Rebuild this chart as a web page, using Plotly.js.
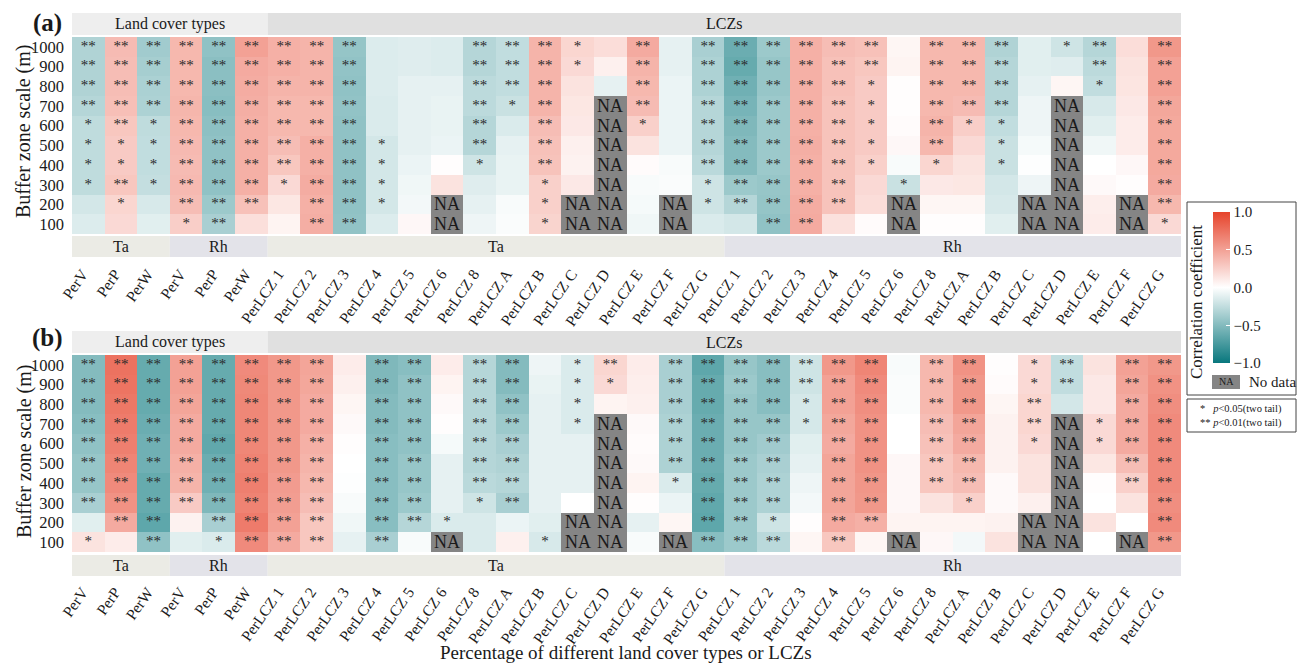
<!DOCTYPE html>
<html><head><meta charset="utf-8">
<script src="https://cdn.plot.ly/plotly-3.0.1.min.js"></script>
<style>html,body{margin:0;padding:0;background:#fff}</style>
</head><body><div id="chart" style="width:1298px;height:663px"></div>
<script>
// ---------- categories ----------
const xLabels = ['PerV','PerP','PerW','PerV','PerP','PerW',
  'PerLCZ 1','PerLCZ 2','PerLCZ 3','PerLCZ 4','PerLCZ 5','PerLCZ 6','PerLCZ 8','PerLCZ A','PerLCZ B','PerLCZ C','PerLCZ D','PerLCZ E','PerLCZ F','PerLCZ G',
  'PerLCZ 1','PerLCZ 2','PerLCZ 3','PerLCZ 4','PerLCZ 5','PerLCZ 6','PerLCZ 8','PerLCZ A','PerLCZ B','PerLCZ C','PerLCZ D','PerLCZ E','PerLCZ F','PerLCZ G'];
const yLabels = ['100','200','300','400','500','600','700','800','900','1000'];
const N = null; // NA = no data
// each inner list: one column, values from 1000 m (top) down to 100 m (bottom)
// significance strings: 2 = **, 1 = *, 0 = none (same order)

// ---------- panel (a) ----------
const aTaLand = [
  [-0.32,-0.32,-0.32,-0.30,-0.26,-0.26,-0.26,-0.26,-0.18,-0.14],
  [0.36,0.35,0.35,0.34,0.30,0.28,0.28,0.30,0.22,0.20],
  [-0.38,-0.36,-0.34,-0.33,-0.26,-0.25,-0.25,-0.24,-0.16,-0.12]];
const aRhLand = [
  [0.38,0.38,0.38,0.39,0.38,0.37,0.36,0.37,0.35,0.26],
  [-0.45,-0.47,-0.47,-0.48,-0.46,-0.45,-0.45,-0.45,-0.40,-0.35],
  [0.50,0.45,0.44,0.43,0.42,0.42,0.42,0.42,0.33,0.17]];
const aTaLCZ = [
  [0.42,0.42,0.40,0.38,0.38,0.35,0.30,0.20,0.13,0.06],
  [0.40,0.40,0.40,0.38,0.38,0.42,0.42,0.44,0.42,0.43],
  [-0.43,-0.44,-0.45,-0.44,-0.45,-0.45,-0.45,-0.45,-0.45,-0.44],
  [-0.14,-0.14,-0.14,-0.15,-0.15,-0.18,-0.18,-0.18,-0.18,-0.14],
  [-0.13,-0.13,-0.10,-0.10,-0.10,-0.10,-0.08,-0.06,-0.05,0.04],
  [-0.14,-0.14,-0.10,-0.09,-0.09,-0.08,0.01,0.15,N,N],
  [-0.30,-0.30,-0.27,-0.27,-0.30,-0.30,-0.20,-0.13,-0.10,-0.07],
  [-0.25,-0.25,-0.25,-0.22,-0.15,-0.10,-0.09,-0.09,-0.03,-0.02],
  [0.40,0.40,0.40,0.40,0.35,0.33,0.32,0.25,0.25,0.23],
  [0.22,0.20,0.15,0.13,0.12,0.08,0.07,0.12,N,N],
  [0.18,0.08,-0.10,N,N,N,N,N,N,N],
  [0.45,0.40,0.38,0.36,0.25,0.15,0.02,-0.03,-0.04,-0.06],
  [-0.10,-0.10,-0.08,-0.08,-0.08,-0.08,-0.03,-0.02,N,N],
  [-0.35,-0.33,-0.33,-0.30,-0.30,-0.30,-0.28,-0.20,-0.20,-0.15]];
const aRhLCZ = [
  [-0.60,-0.62,-0.58,-0.55,-0.52,-0.50,-0.50,-0.40,-0.30,-0.18],
  [-0.40,-0.42,-0.42,-0.40,-0.40,-0.40,-0.40,-0.42,-0.43,-0.45],
  [0.42,0.42,0.42,0.42,0.42,0.43,0.42,0.42,0.44,0.45],
  [0.35,0.33,0.33,0.32,0.32,0.32,0.32,0.32,0.32,0.16],
  [0.33,0.30,0.28,0.28,0.28,0.28,0.25,0.20,0.18,0.02],
  [0.05,0.06,0.01,0.01,0.02,0.04,-0.03,-0.22,N,N],
  [0.38,0.38,0.38,0.38,0.40,0.38,0.22,0.12,0.05,0.01],
  [0.38,0.38,0.38,0.36,0.26,0.20,0.15,0.13,0.05,0.01],
  [-0.32,-0.30,-0.30,-0.30,-0.25,-0.22,-0.22,-0.18,-0.16,-0.12],
  [-0.12,-0.12,-0.10,-0.07,-0.07,-0.04,-0.01,-0.07,N,N],
  [-0.20,-0.13,0.05,N,N,N,N,N,N,N],
  [-0.30,-0.27,-0.25,-0.16,-0.12,-0.06,0.00,0.03,0.09,0.10],
  [0.18,0.15,0.14,0.12,0.10,0.10,0.04,0.01,N,N],
  [0.55,0.50,0.50,0.47,0.46,0.46,0.46,0.45,0.38,0.20]];
const aSig = ['2222111100','2222211210','2222111100',
  '2222222221','2222222222','2222222220',
  '2222222100','2222222222','2222222222','0000011110','0000000000','0000000000','2222221000',
  '2221000000','2222222111','1100000000','0000000000','2222100000','0000000000','2222222110',
  '2222222220','2222222222','2222222222','2222222220','2211111000','0000000100','2222221000',
  '2222100000','2222111000','0000000000','1000000000','2210000000','0000000000','2222222221'];

// ---------- panel (b) ----------
const bTaLand = [
  [-0.50,-0.50,-0.50,-0.48,-0.45,-0.42,-0.42,-0.35,-0.12,0.15],
  [0.75,0.74,0.72,0.70,0.68,0.65,0.62,0.58,0.45,0.10],
  [-0.62,-0.62,-0.62,-0.60,-0.58,-0.58,-0.62,-0.62,-0.65,-0.45]];
const bRhLand = [
  [0.50,0.50,0.48,0.45,0.45,0.42,0.40,0.28,0.07,-0.12],
  [-0.62,-0.62,-0.62,-0.62,-0.64,-0.60,-0.58,-0.52,-0.35,-0.15],
  [0.62,0.63,0.64,0.64,0.64,0.66,0.68,0.66,0.70,0.62]];
const bTaLCZ = [
  [0.55,0.55,0.55,0.55,0.55,0.55,0.53,0.52,0.50,0.45],
  [0.48,0.47,0.45,0.45,0.42,0.40,0.38,0.35,0.30,0.30],
  [0.10,0.08,0.05,0.03,0.01,0.00,-0.01,-0.03,-0.06,-0.10],
  [-0.52,-0.52,-0.50,-0.50,-0.48,-0.48,-0.48,-0.48,-0.48,-0.35],
  [-0.48,-0.45,-0.45,-0.45,-0.45,-0.42,-0.42,-0.40,-0.30,-0.03],
  [0.10,0.06,0.03,0.01,-0.04,-0.10,-0.10,-0.10,-0.15,N],
  [-0.30,-0.30,-0.30,-0.30,-0.30,-0.30,-0.28,-0.20,-0.15,-0.15],
  [-0.50,-0.50,-0.45,-0.40,-0.35,-0.32,-0.30,-0.35,-0.08,0.08],
  [-0.07,-0.09,-0.10,-0.10,-0.10,-0.10,-0.10,-0.10,-0.12,-0.16],
  [-0.15,-0.15,-0.15,-0.15,-0.10,-0.10,-0.10,0.00,N,N],
  [0.22,0.20,0.06,N,N,N,N,N,N,N],
  [0.10,0.09,0.08,0.03,0.02,0.03,0.06,0.01,-0.10,-0.03],
  [-0.35,-0.35,-0.35,-0.33,-0.33,-0.33,-0.15,-0.08,0.05,N],
  [-0.65,-0.62,-0.62,-0.60,-0.60,-0.60,-0.62,-0.64,-0.65,-0.48]];
const bRhLCZ = [
  [-0.42,-0.40,-0.42,-0.42,-0.42,-0.40,-0.40,-0.40,-0.40,-0.40],
  [-0.48,-0.48,-0.48,-0.42,-0.38,-0.35,-0.33,-0.33,-0.20,-0.28],
  [-0.20,-0.20,-0.17,-0.17,-0.12,-0.10,-0.07,-0.05,0.01,0.05],
  [0.55,0.50,0.50,0.47,0.45,0.48,0.48,0.48,0.45,0.30],
  [0.65,0.62,0.60,0.58,0.58,0.58,0.56,0.55,0.42,0.05],
  [-0.03,-0.02,-0.02,0.00,0.00,0.04,0.04,0.04,0.06,N],
  [0.38,0.38,0.38,0.35,0.33,0.30,0.30,0.15,0.06,0.04],
  [0.58,0.55,0.55,0.48,0.45,0.38,0.35,0.25,0.06,-0.05],
  [0.01,0.02,0.05,0.07,0.07,0.07,0.03,0.03,0.07,0.15],
  [0.20,0.20,0.22,0.22,0.20,0.15,0.15,0.08,N,N],
  [-0.25,-0.25,-0.18,N,N,N,N,N,N,N],
  [0.15,0.12,0.12,0.20,0.20,0.13,0.01,0.00,0.15,0.00],
  [0.50,0.48,0.45,0.45,0.45,0.35,0.25,0.15,0.00,N],
  [0.55,0.58,0.60,0.62,0.62,0.62,0.62,0.60,0.62,0.55]];
const bSig = ['2222222201','2222222220','2222222222',
  '2222222200','2222222221','2222222222',
  '2222222222','2222222222','0000000000','2222222222','2222222220','0000000010','2222222100',
  '2222222200','0000000001','1111000000','2100000000','0000000000','2222221000','2222222222',
  '2222222222','2222222212','2211000000','2222222222','2222222220','0000000000','2222222000',
  '2222222100','0000000000','1122100000','2200000000','0001100000','2222222000','2222222222'];

const tickVals = [-1,-0.5,0,0.5,1];
const tickText = ['\u22121.0','\u22120.5','0.0','0.5','1.0'];

// ---------- build ----------
const SERIF = 'Liberation Serif, Times New Roman, serif';
const colsA = [...aTaLand, ...aRhLand, ...aTaLCZ, ...aRhLCZ];
const colsB = [...bTaLand, ...bRhLand, ...bTaLCZ, ...bRhLCZ];
const xIdx = xLabels.map((_, i) => i);
const starMap = {'2':'**','1':'*','0':''};
function grid(cols, f) {
  return yLabels.map((_, r) => cols.map((c, j) => f(c[9 - r], j, 9 - r)));
}
const cscale = [[0,'#08777D'],[0.5,'#FFFFFF'],[1,'#E6432B']];
function traces(cols, sig, xa, ya, showBar) {
  const main = {
    type:'heatmap', x:xIdx, y:yLabels, xaxis:xa, yaxis:ya,
    z: grid(cols, v => v),
    colorscale:cscale, zmin:-1, zmax:1, hoverinfo:'skip', showscale:showBar,
    colorbar:{xref:'container', yref:'container', x:1213/1298, xanchor:'left',
      y:1-287.5/663, yanchor:'middle', lenmode:'pixels', len:151, thickness:17,
      xpad:0, ypad:0, outlinewidth:0, tickvals:tickVals, ticktext:tickText,
      ticks:'inside', ticklen:4, tickcolor:'#ffffff', tickwidth:1,
      tickfont:{family:SERIF, size:15, color:'#1a1a1a'}}
  };
  const na = {
    type:'heatmap', x:xIdx, y:yLabels, xaxis:xa, yaxis:ya,
    z: grid(cols, v => v === null ? 1 : null),
    text: grid(cols, v => v === null ? 'NA' : ''),
    texttemplate:'%{text}', textfont:{family:SERIF, size:18, color:'#1a1a1a'},
    colorscale:[[0,'#858585'],[1,'#858585']], showscale:false, hoverinfo:'skip'
  };
  // significance stars
  const sx = [], sy = [], st = [];
  cols.forEach((c, j) => c.forEach((v, k) => {
    const s = starMap[sig[j][k]];
    if (v !== null && s) { sx.push(j); sy.push(yLabels[9 - k]); st.push(s); }
  }));
  const stars = {
    type:'scatter', mode:'text', x:sx, y:sy, text:st, xaxis:xa, yaxis:ya,
    textposition:'middle center', hoverinfo:'skip',
    textfont:{family:SERIF, size:15, color:'#2a2a2a'}
  };
  return [main, na, stars];
}
const data = [...traces(colsA, aSig, 'x', 'y', true), ...traces(colsB, bSig, 'x2', 'y2', false)];

const L = 72, R = 117, W = 1298, H = 663, PW = W - L - R;
const px = x => (x - L) / PW;
const py = y => 1 - y / H;

function xaxis(anchor) {
  return {anchor:anchor, domain:[0,1], range:[-0.5,33.5], tickmode:'array', tickvals:xIdx, ticktext:xLabels,
    tickangle:-55, tickfont:{family:SERIF, size:15.5, color:'#1a1a1a'},
    ticks:'', showgrid:false, zeroline:false, showline:false,
    ticklabelstandoff:27, ticklabelshift:-6, fixedrange:true};
}
function yaxis(anchor, dom) {
  return {anchor:anchor, domain:dom, type:'category', categoryorder:'array', categoryarray:yLabels,
    tickmode:'array', tickvals:yLabels, ticktext:yLabels,
    tickfont:{family:SERIF, size:16.5, color:'#1a1a1a'},
    ticks:'', showgrid:false, zeroline:false, showline:false, ticklabelstandoff:7, fixedrange:true};
}

const shapes = [], ann = [];
function strip(xr, x0, x1, y0, y1, color, label) {
  shapes.push({type:'rect', xref:xr, yref:'paper', x0:x0, x1:x1, y0:py(y1), y1:py(y0),
    fillcolor:color, line:{width:0}, layer:'below'});
  ann.push({xref:xr, yref:'paper', x:(x0 + x1) / 2, y:py((y0 + y1) / 2), text:label,
    showarrow:false, font:{family:SERIF, size:16, color:'#1a1a1a'}, xanchor:'center', yanchor:'middle'});
}
[['x', 13, 35, 236, 257], ['x2', 331, 353, 555, 576]].forEach(([xr, t0, t1, b0, b1]) => {
  strip(xr, -0.5, 5.5, t0, t1, '#eeeeee', 'Land cover types');
  strip(xr, 5.5, 33.5, t0, t1, '#e0e0e0', 'LCZs');
  strip(xr, -0.5, 2.5, b0, b1, '#ebebe5', 'Ta');
  strip(xr, 2.5, 5.5, b0, b1, '#e3e3e9', 'Rh');
  strip(xr, 5.5, 19.5, b0, b1, '#ebebe5', 'Ta');
  strip(xr, 19.5, 33.5, b0, b1, '#e3e3e9', 'Rh');
});
function text(x, y, t, size, opts) {
  ann.push(Object.assign({xref:'paper', yref:'paper', x:px(x), y:py(y), text:t, showarrow:false,
    font:{family:SERIF, size:size, color:'#1a1a1a'}, xanchor:'center', yanchor:'middle'}, opts || {}));
}
text(47, 23, '<b>(a)</b>', 25);
text(47, 338, '<b>(b)</b>', 25);
text(24, 132, 'Buffer zone scale (m)', 20, {textangle:-90});
text(24, 452, 'Buffer zone scale (m)', 20, {textangle:-90});
text(626, 652, 'Percentage of different land cover types or LCZs', 19);
text(1197, 302, 'Correlation coefficient', 17, {textangle:-90});
// legend boxes
shapes.push({type:'rect', xref:'paper', yref:'paper', x0:px(1187), x1:px(1296), y0:py(395), y1:py(202), line:{color:'#444', width:1}});
shapes.push({type:'rect', xref:'paper', yref:'paper', x0:px(1187), x1:px(1296), y0:py(432), y1:py(399), line:{color:'#444', width:1}});
shapes.push({type:'rect', xref:'paper', yref:'paper', x0:px(1212), x1:px(1240), y0:py(389), y1:py(375), fillcolor:'#858585', line:{width:0}});
text(1226, 382, 'NA', 10);
text(1247, 382, 'No data', 15, {xanchor:'left'});
text(1198, 409, '*&nbsp;&nbsp; <i>p</i><0.05(two tail)', 10.5, {xanchor:'left'});
text(1198, 423, '** <i>p</i><0.01(two tail)', 10.5, {xanchor:'left'});

const layout = {
  width:W, height:H, margin:{l:L, r:R, t:0, b:0}, paper_bgcolor:'#fff', plot_bgcolor:'#fff',
  xaxis:xaxis('y'), yaxis:yaxis('x', [py(234), py(37)]),
  xaxis2:xaxis('y2'), yaxis2:yaxis('x2', [py(552), py(355)]),
  shapes:shapes, annotations:ann, showlegend:false
};
Plotly.newPlot('chart', data, layout, {displayModeBar:false, staticPlot:true});
</script></body></html>
